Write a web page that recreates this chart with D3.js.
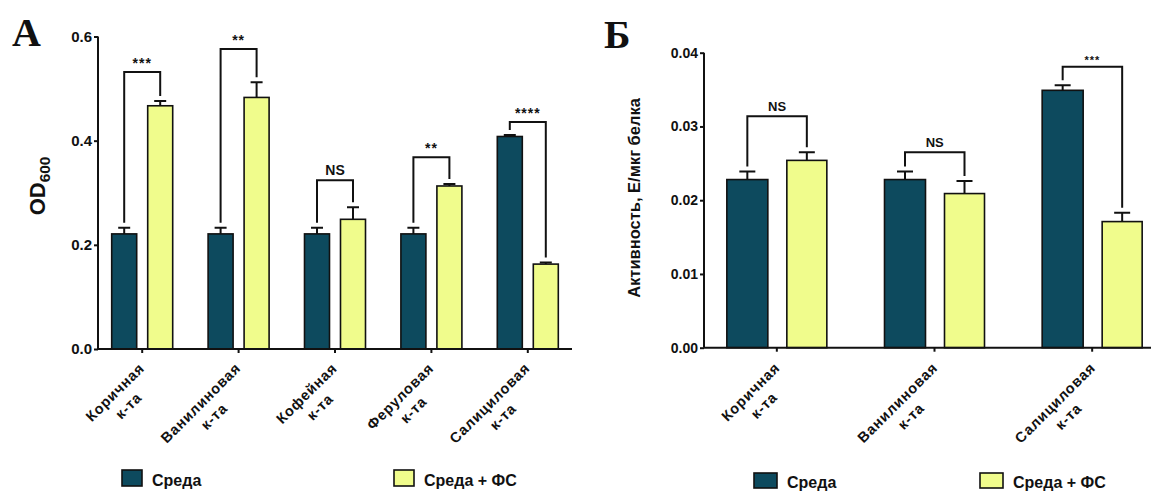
<!DOCTYPE html>
<html lang="ru">
<head>
    <meta charset="UTF-8">
    <title>OD600 и активность</title>
    <script src="https://cdn.jsdelivr.net/npm/d3@7"></script>
    <style>
        body { margin: 0; background: #fff; }
        text { font-family: "Liberation Sans", Arial, sans-serif; font-weight: bold; fill: #111; }
        .letter { font-family: "Liberation Serif", "Times New Roman", serif; font-size: 40px; }
        .axis path, .axis line { stroke: #111; stroke-width: 2px; }
    </style>
</head>
<body>
<script>
    // panel A: OD600
    const leftCategories = [["Коричная", "к-та"], ["Ванилиновая", "к-та"], ["Кофейная", "к-та"], ["Феруловая", "к-та"], ["Салициловая", "к-та"]]
    const leftMedium = [0.221, 0.221, 0.221, 0.221, 0.408]
    const leftMediumErr = [0.012, 0.012, 0.012, 0.012, 0.003]
    const leftFS = [0.467, 0.483, 0.249, 0.313, 0.163]
    const leftFSErr = [0.009, 0.029, 0.023, 0.004, 0.003]
    const leftSig = ["***", "**", "NS", "**", "****"]
    const leftBracket = [0.532, 0.576, 0.324, 0.368, 0.436]
    const leftTicks = [0, 0.2, 0.4, 0.6]

    // panel Б: activity
    const rightCategories = [["Коричная", "к-та"], ["Ванилиновая", "к-та"], ["Салициловая", "к-та"]]
    const rightMedium = [0.0228, 0.0228, 0.0349]
    const rightMediumErr = [0.0011, 0.0011, 0.0007]
    const rightFS = [0.0254, 0.0209, 0.0171]
    const rightFSErr = [0.0011, 0.0017, 0.0012]
    const rightSig = ["NS", "NS", "***"]
    const rightBracket = [0.0314, 0.0265, 0.0381]
    const rightTicks = [0, 0.01, 0.02, 0.03, 0.04]

    const seriesNames = ["Среда", "Среда + ФС"]
    const colors = ["#0d4a5e", "#f0fc8c"]

    const svg = d3.select("body").append("svg").attr("width", 1151).attr("height", 492)

    function drawPanel(p) {
        const g = svg.append("g")
        const x = d3.scaleBand().domain(d3.range(p.categories.length)).range(p.xRange)
        const y = d3.scaleLinear().domain(p.yDomain).range(p.yRange)
        const c = i => x(i) + x.bandwidth() / 2

        // bars: medium and medium + FS
        const series = [
            {vals: p.medium, errs: p.mediumErr, off: p.darkOff, w: p.darkW, color: colors[0]},
            {vals: p.fs, errs: p.fsErr, off: p.lightOff, w: p.lightW, color: colors[1]}
        ]
        series.forEach(s => {
            g.selectAll(null).data(s.vals).join("rect")
                .attr("x", (d, i) => c(i) + s.off)
                .attr("y", d => y(d))
                .attr("width", s.w)
                .attr("height", d => y(0) - y(d))
                .attr("fill", s.color)
                .attr("stroke", "#111").attr("stroke-width", 1.6)
            // error bars (upper only)
            g.selectAll(null).data(s.vals).join("path")
                .attr("d", (d, i) => {
                    const cx = c(i) + s.off + s.w / 2, top = y(d + s.errs[i])
                    return `M${cx},${y(d)}V${top}M${cx - p.cap / 2},${top}H${cx + p.cap / 2}`
                })
                .attr("fill", "none").attr("stroke", "#111").attr("stroke-width", 2)
        })

        // significance brackets
        p.bracket.forEach((b, i) => {
            const x1 = c(i) + p.darkOff + p.darkW / 2, x2 = c(i) + p.lightOff + p.lightW / 2
            const y1 = y(p.medium[i] + p.mediumErr[i]) - 5, y2 = y(p.fs[i] + p.fsErr[i]) - 5
            const yb = y(b)
            g.append("path")
                .attr("d", `M${x1},${y1}V${yb}H${x2}V${y2}`)
                .attr("fill", "none").attr("stroke", "#111").attr("stroke-width", 2)
            const isStar = p.sig[i] !== "NS"
            g.append("text")
                .attr("x", (x1 + x2) / 2)
                .attr("y", yb - (isStar ? p.starGap : 5))
                .attr("text-anchor", "middle")
                .style("font-size", (isStar ? p.starSize : p.nsSize) + "px")
                .style("letter-spacing", isStar ? "1px" : "0")
                .text(p.sig[i])
        })

        // y axis
        const yAxis = g.append("g").attr("class", "axis")
            .attr("transform", `translate(${p.axisX},0)`)
            .call(d3.axisLeft(y).tickValues(p.ticks).tickSize(4).tickSizeOuter(0).tickFormat(d3.format(p.fmt)))
        yAxis.select(".domain").attr("d", `M0,${p.yRange[1]}V${p.yRange[0]}`)
        yAxis.selectAll(".tick text").style("font-size", p.tickSize + "px").attr("x", -6).attr("fill", "#111")
        yAxis.attr("font-family", null)

        // x axis
        const xAxisG = g.append("g").attr("class", "axis")
        xAxisG.append("path").attr("d", `M${p.axisX},${y(0)}H${p.xEnd}`)
        xAxisG.selectAll("line").data(p.categories).join("line")
            .attr("x1", (d, i) => c(i)).attr("x2", (d, i) => c(i))
            .attr("y1", y(0)).attr("y2", y(0) + 4)

        // rotated two-line category labels
        const labels = g.selectAll(".xlab").data(p.categories).join("g")
            .attr("class", "xlab")
            .attr("transform", (d, i) => `translate(${c(i) + p.labDx},${y(0) + p.labDy}) rotate(-45)`)
        labels.each(function (d) {
            const lg = d3.select(this)
            const ts = d.map((t, k) => lg.append("text")
                .attr("y", 10 + k * p.lineH)
                .attr("text-anchor", "middle")
                .style("font-size", p.labSize + "px")
                .style("letter-spacing", "0.8px")
                .text(t))
            const w = d3.max(ts, t => t.node().getComputedTextLength())
            ts.forEach(t => t.attr("x", -w / 2))
        })

        // axis title
        const title = g.append("text")
            .attr("transform", `translate(${p.titleX},${p.titleY}) rotate(-90)`)
            .attr("text-anchor", "middle")
            .style("font-size", p.titleSize + "px")
        title.append("tspan").text(p.title)
        if (p.titleSub) title.append("tspan").attr("dy", 5).style("font-size", (p.titleSize * 0.7) + "px").text(p.titleSub)

        // panel letter
        g.append("text").attr("class", "letter").attr("x", p.letterX).attr("y", p.letterY).text(p.letter)

        // legend
        seriesNames.forEach((n, k) => {
            g.append("rect")
                .attr("x", p.legX[k]).attr("y", p.legY)
                .attr("width", p.legW).attr("height", p.legH)
                .attr("fill", colors[k]).attr("stroke", "#111").attr("stroke-width", 1.6)
            g.append("text")
                .attr("x", p.legX[k] + p.legW + 10).attr("y", p.legY + p.legH)
                .style("font-size", "16px")
                .text(n)
        })
    }

    drawPanel({
        categories: leftCategories, medium: leftMedium, mediumErr: leftMediumErr,
        fs: leftFS, fsErr: leftFSErr, sig: leftSig, bracket: leftBracket, ticks: leftTicks,
        xRange: [94, 576], yDomain: [0, 0.6], yRange: [349, 36.5], axisX: 98, xEnd: 572,
        darkOff: -30.5, darkW: 25, lightOff: 5.5, lightW: 25, cap: 12,
        starSize: 14, starGap: 4, nsSize: 14, fmt: ".1f", tickSize: 15,
        labDx: -4, labDy: 13, labSize: 14.5, lineH: 19,
        title: "OD", titleSub: "600", titleX: 45, titleY: 186, titleSize: 22,
        letter: "А", letterX: 12, letterY: 46,
        legX: [122, 394], legY: 470, legW: 20, legH: 16
    })

    drawPanel({
        categories: rightCategories, medium: rightMedium, mediumErr: rightMediumErr,
        fs: rightFS, fsErr: rightFSErr, sig: rightSig, bracket: rightBracket, ticks: rightTicks,
        xRange: [698, 1171], yDomain: [0, 0.04], yRange: [347.7, 52.7], axisX: 704, xEnd: 1151,
        darkOff: -50, darkW: 41, lightOff: 10, lightW: 40, cap: 16,
        starSize: 11, starGap: 3, nsSize: 13, fmt: ".2f", tickSize: 14,
        labDx: -3, labDy: 14, labSize: 14.5, lineH: 19,
        title: "Активность, Е/мкг белка", titleX: 640, titleY: 198, titleSize: 16.5,
        letter: "Б", letterX: 604, letterY: 48,
        legX: [754, 980], legY: 473, legW: 23, legH: 15
    })
</script>
</body>
</html>
